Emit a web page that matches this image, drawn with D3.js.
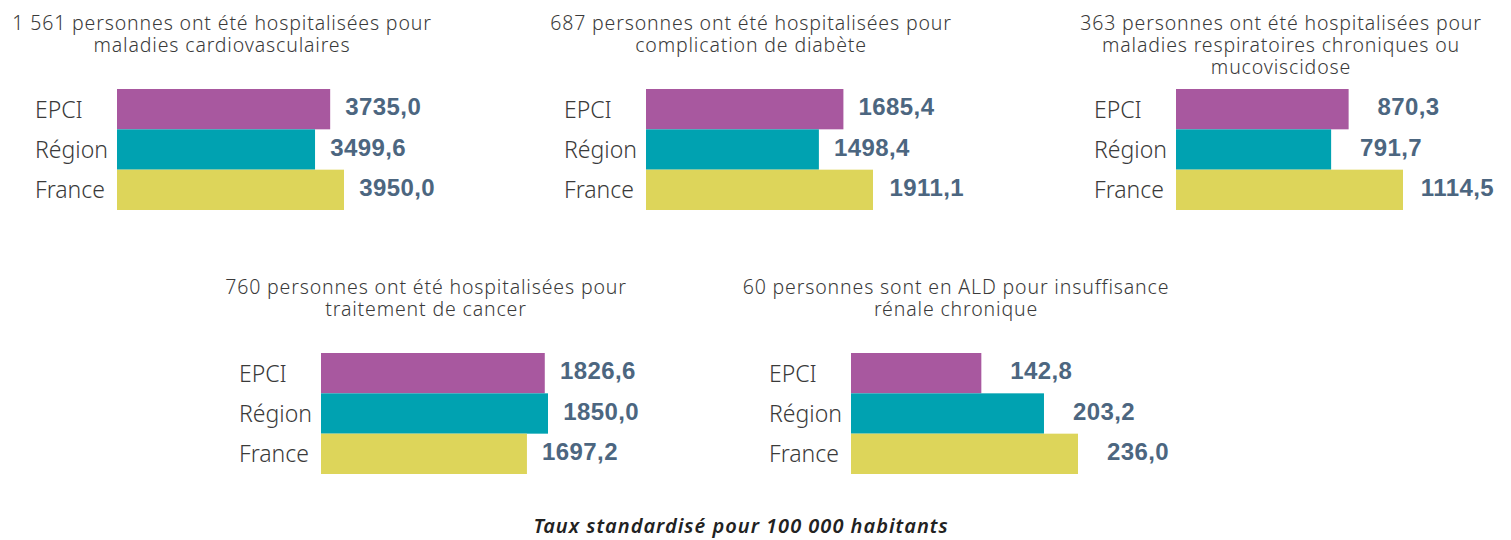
<!DOCTYPE html>
<html>
<head>
<meta charset="utf-8">
<script src="https://cdn.jsdelivr.net/npm/d3@7"></script>
<style>
  body { margin: 0; background: #fff; }
  .title, .cat { font-family: "Noto Sans", sans-serif; font-weight: 300; fill: #3a3a3a; }
  .val { font-family: "Liberation Sans", Arial, sans-serif; font-weight: bold; fill: #4c6680; }
  .foot { font-family: "Noto Sans", sans-serif; font-style: italic; font-weight: 600; fill: #222; }
</style>
</head>
<body>
<div id="chart"></div>
<script>
var titles = [
    ["1 561 personnes ont été hospitalisées pour", "maladies cardiovasculaires"],
    ["687 personnes ont été hospitalisées pour", "complication de diabète"],
    ["363 personnes ont été hospitalisées pour", "maladies respiratoires chroniques ou", "mucoviscidose"],
    ["760 personnes ont été hospitalisées pour", "traitement de cancer"],
    ["60 personnes sont en ALD pour insuffisance", "rénale chronique"]
];
var categories = ["EPCI", "Région", "France"];
var epci = [3735.0, 1685.4, 870.3, 1826.6, 142.8];
var region = [3499.6, 1498.4, 791.7, 1850.0, 203.2];
var france = [3950.0, 1911.1, 1114.5, 1697.2, 236.0];
var footnote = "Taux standardisé pour 100 000 habitants";

var colors = ["#a8589f", "#00a2b1", "#ddd55a"];

var svg = d3.select('#chart')
    .append('svg')
    .attr('width', 1511)
    .attr('height', 540);

// where each panel's bars start
var slots = [
    {x: 117, y: 89},
    {x: 646, y: 89},
    {x: 1176, y: 89},
    {x: 321, y: 353},
    {x: 851, y: 353}
];

var fmt = d3.formatLocale({decimal: ",", thousands: " ", grouping: [3]}).format(".1f");
var barMax = 227;

var y = d3.scaleBand()
    .domain(categories)
    .range([0, 121])
    .padding(0);

titles.forEach(function (lines, i) {
    var vals = [epci[i], region[i], france[i]];
    var data = categories.map(function (c, j) { return {cat: c, value: vals[j]}; });

    var x = d3.scaleLinear()
        .domain([d3.min(vals) * 0.12, d3.max(vals)])
        .range([0, barMax]);

    var g = svg.append("g")
        .attr("transform", "translate(" + slots[i].x + "," + slots[i].y + ")");

    g.append("text")
        .attr("class", "title")
        .attr("text-anchor", "middle")
        .attr("font-size", 19.5)
        .style("letter-spacing", "0.85px")
        .selectAll("tspan")
        .data(lines)
        .join("tspan")
        .attr("x", 105)
        .attr("y", function (d, k) { return -59 + k * 22; })
        .text(function (d) { return d; });

    g.selectAll("rect")
        .data(data)
        .join("rect")
        .attr("x", 0)
        .attr("y", function (d) { return y(d.cat); })
        .attr("width", function (d) { return x(d.value); })
        .attr("height", y.bandwidth())
        .attr("fill", function (d, j) { return colors[j]; });

    g.selectAll(".cat")
        .data(data)
        .join("text")
        .attr("class", "cat")
        .attr("x", -82)
        .attr("y", function (d) { return y(d.cat) + y.bandwidth() / 2 + 8.5; })
        .attr("font-size", 23)
        .text(function (d) { return d.cat; });

    // value labels are right-aligned a fixed distance past the bar end
    g.selectAll(".val")
        .data(data)
        .join("text")
        .attr("class", "val")
        .attr("x", function (d) { return x(d.value) + 91; })
        .attr("y", function (d) { return y(d.cat) + y.bandwidth() / 2 + 6; })
        .attr("text-anchor", "end")
        .attr("font-size", 24)
        .style("letter-spacing", "0.4px")
        .text(function (d) { return fmt(d.value); });
});

svg.append("text")
    .attr("class", "foot")
    .attr("x", 741)
    .attr("y", 533)
    .attr("text-anchor", "middle")
    .attr("font-size", 20)
    .style("letter-spacing", "1px")
    .text(footnote);
</script>
</body>
</html>
